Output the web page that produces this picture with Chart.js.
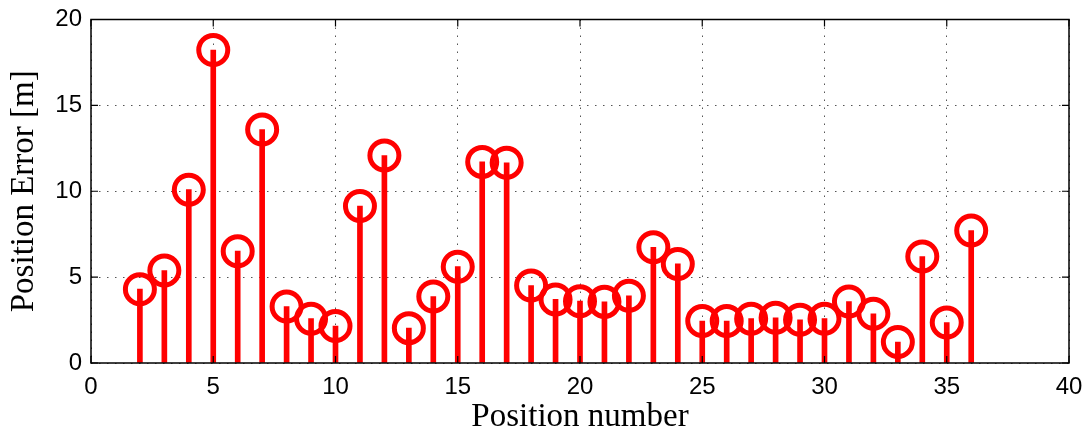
<!DOCTYPE html>
<html>
<head>
<meta charset="utf-8">
<script src="https://cdn.jsdelivr.net/npm/chart.js@4/dist/chart.umd.min.js"></script>
<style>
  html, body { margin: 0; padding: 0; background: #fff; }
  #wrap { width: 1091px; height: 437px; }
</style>
</head>
<body>
<div id="wrap"><canvas id="myChart0" width="1091" height="437"></canvas></div>
<script>
// position numbers and their errors
var positions = [2, 3, 4, 5, 6, 7, 8, 9, 10, 11, 12, 13, 14, 15, 16, 17, 18, 19,
                 20, 21, 22, 23, 24, 25, 26, 27, 28, 29, 30, 31, 32, 33, 34, 35, 36];
var errors = [4.30, 5.38, 10.09, 18.22, 6.51, 13.59, 3.29, 2.58, 2.15, 9.14, 12.08, 2.03,
              3.87, 5.61, 11.71, 11.66, 4.51, 3.70, 3.60, 3.56, 3.91, 6.74, 5.77, 2.44,
              2.44, 2.58, 2.63, 2.52, 2.58, 3.58, 2.87, 1.22, 6.20, 2.36, 7.71];
var xTicks = [0, 5, 10, 15, 20, 25, 30, 35, 40];
var yTicks = [0, 5, 10, 15, 20];

var pts = [];
for (var i = 0; i < positions.length; i++) {
  pts.push({ x: positions[i], y: errors[i] });
}

// matlab style box + inward ticks
var boxPlugin = {
  id: 'box',
  afterDraw: function(chart) {
    var ctx = chart.ctx, a = chart.chartArea;
    var xs = chart.scales.x, ys = chart.scales.y;
    ctx.save();
    ctx.strokeStyle = '#000';
    ctx.lineWidth = 1.5;
    ctx.setLineDash([]);
    ctx.strokeRect(a.left, a.top, a.right - a.left, a.bottom - a.top);
    ctx.lineWidth = 1.2;
    ctx.beginPath();
    xs.ticks.forEach(function(t) {
      var px = xs.getPixelForValue(t.value);
      ctx.moveTo(px, a.bottom); ctx.lineTo(px, a.bottom - 7);
      ctx.moveTo(px, a.top); ctx.lineTo(px, a.top + 7);
    });
    ys.ticks.forEach(function(t) {
      var py = ys.getPixelForValue(t.value);
      ctx.moveTo(a.left, py); ctx.lineTo(a.left + 7, py);
      ctx.moveTo(a.right, py); ctx.lineTo(a.right - 7, py);
    });
    ctx.stroke();
    ctx.restore();
  }
};

var ctx = document.getElementById('myChart0').getContext('2d');
var chart = new Chart(ctx, {
  type: 'bar',
  data: {
    datasets: [{
      type: 'line',
      label: 'markers',
      data: pts,
      showLine: false,
      pointRadius: 14.5,
      pointHoverRadius: 14.5,
      pointBorderWidth: 5,
      pointBorderColor: '#ff0000',
      pointBackgroundColor: 'rgba(0,0,0,0)',
      order: 1
    }, {
      type: 'bar',
      label: 'stems',
      data: pts,
      backgroundColor: '#ff0000',
      borderWidth: 0,
      barThickness: 5,
      grouped: false,
      order: 2
    }]
  },
  options: {
    responsive: false,
    animation: false,
    events: [],
    layout: { padding: { top: 18, right: 22, left: 0, bottom: 0 } },
    plugins: { legend: { display: false }, tooltip: { enabled: false } },
    scales: {
      x: {
        type: 'linear',
        min: 0, max: 40,
        offset: false,
        afterFit: function(s) { s.height = 74; s.paddingLeft = 0; s.paddingRight = 0; },
        afterBuildTicks: function(s) { s.ticks = xTicks.map(function(v) { return { value: v }; }); },
        ticks: { color: '#000', padding: 10, maxRotation: 0,
                 font: { family: 'Liberation Sans', size: 24 } },
        grid: { color: '#555', lineWidth: 1, drawTicks: false, offset: false },
        border: { display: false, dash: [1.5, 6.5] },
        title: { display: true, text: 'Position number', color: '#000',
                 padding: { top: 0, bottom: 0 },
                 font: { family: 'Liberation Serif', size: 33, weight: 'normal' } }
      },
      y: {
        min: 0, max: 20,
        afterFit: function(s) { s.width = 91; s.paddingTop = 0; s.paddingBottom = 0; },
        afterBuildTicks: function(s) { s.ticks = yTicks.map(function(v) { return { value: v }; }); },
        ticks: { color: '#000', padding: 9,
                 font: { family: 'Liberation Sans', size: 24 } },
        grid: { color: '#555', lineWidth: 1, drawTicks: false },
        border: { display: false, dash: [1.5, 6.5] },
        title: { display: true, text: 'Position Error [m]', color: '#000',
                 padding: { top: 5, bottom: 0 },
                 font: { family: 'Liberation Serif', size: 33, weight: 'normal' } }
      }
    }
  },
  plugins: [boxPlugin]
});
</script>
</body>
</html>
